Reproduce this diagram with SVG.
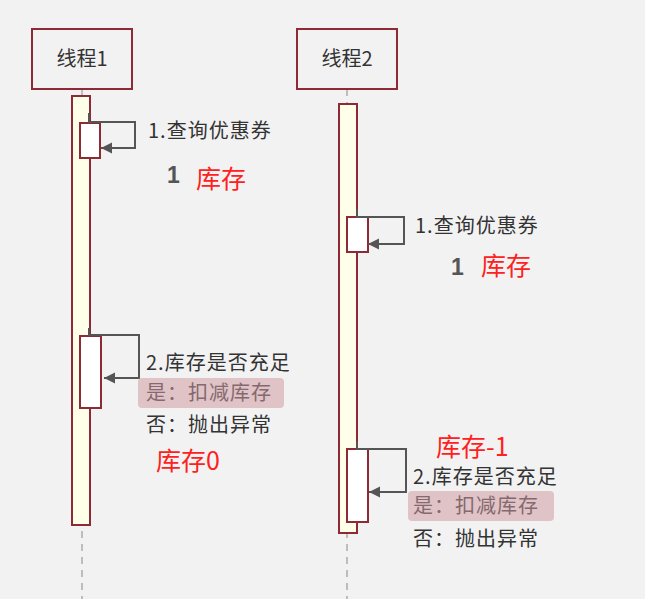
<svg xmlns="http://www.w3.org/2000/svg" width="645" height="599" viewBox="0 0 645 599">
<style>
.bg{fill:#f2f2f2}
.head{fill:#f2f2f2;stroke:#8e2a36;stroke-width:2}
.bar{fill:#fffee8;stroke:#8e2a36;stroke-width:2}
.act{fill:#ffffff;stroke:#8e2a36;stroke-width:2}
.life{stroke:#bdbdbd;stroke-width:2;stroke-dasharray:7 6;fill:none}
.msg{fill:none;stroke:#555555;stroke-width:2}
.t{font-family:"Microsoft YaHei","Noto Sans CJK SC",sans-serif;font-size:20px;fill:#333333}
.hl{fill:#dfc3c7}
.ht{fill:#85696e}
.red{font-family:"Microsoft YaHei","Noto Sans CJK SC",sans-serif;font-size:25px;fill:#ff2020}
.num{font-family:"Liberation Sans","Noto Sans CJK SC",sans-serif;font-size:23px;font-weight:bold;fill:#555555}
</style>
<defs>
<marker id="ah" markerUnits="userSpaceOnUse" markerWidth="12" markerHeight="12" refX="11" refY="6" orient="auto">
<path d="M0,0.5 L11,6 L0,11.5 z" fill="#555555"/>
</marker>
</defs>
<rect class="bg" x="0" y="0" width="645" height="599"/>
<g id="lifelines">
<line class="life" x1="82" y1="89" x2="82" y2="599"/>
<line class="life" x1="347" y1="89" x2="347" y2="599"/>
</g>
<g id="thread1">
<rect class="head" x="32" y="29" width="100" height="60"/>
<text class="t" x="82" y="66" text-anchor="middle">线程1</text>
<rect class="bar" x="72" y="96" width="18" height="429"/>
<rect class="act" x="80" y="123" width="20" height="35"/>
<rect class="act" x="80" y="336" width="21" height="72"/>
</g>
<g id="thread2">
<rect class="head" x="297" y="29" width="100" height="60"/>
<text class="t" x="347" y="66" text-anchor="middle">线程2</text>
<rect class="bar" x="339" y="104" width="18" height="429"/>
<rect class="act" x="347" y="217" width="21" height="35"/>
<rect class="act" x="347" y="449" width="21" height="73"/>
</g>
<g id="connectors">
<path class="msg" d="M89,113 V122 H135 V148 H101" marker-end="url(#ah)"/>
<path class="msg" d="M89,328 V335 H139 V378 H104" marker-end="url(#ah)"/>
<path class="msg" d="M357,209 V217 H404 V244 H368" marker-end="url(#ah)"/>
<path class="msg" d="M357,441 V449 H406 V492 H369" marker-end="url(#ah)"/>
</g>
<g id="labels1">
<text class="t" x="148" y="138" letter-spacing="1">1.查询优惠券</text>
<text class="num" x="167" y="183">1</text>
<text class="red" x="196" y="188">库存</text>
<text class="t" x="146" y="370" letter-spacing="1">2.库存是否充足</text>
<rect class="hl" x="138" y="378" width="146" height="30" rx="4"/>
<text class="t ht" x="146" y="400" letter-spacing="1">是：扣减库存</text>
<text class="t" x="146" y="432" letter-spacing="1">否：抛出异常</text>
<text class="red" x="156" y="470">库存0</text>
</g>
<g id="labels2">
<text class="t" x="415" y="233" letter-spacing="1">1.查询优惠券</text>
<text class="num" x="451" y="275">1</text>
<text class="red" x="481" y="275">库存</text>
<text class="red" x="436" y="456">库存-1</text>
<text class="t" x="413" y="484" letter-spacing="1">2.库存是否充足</text>
<rect class="hl" x="408" y="491" width="146" height="30" rx="4"/>
<text class="t ht" x="413" y="513" letter-spacing="1">是：扣减库存</text>
<text class="t" x="413" y="546" letter-spacing="1">否：抛出异常</text>
</g>
</svg>
